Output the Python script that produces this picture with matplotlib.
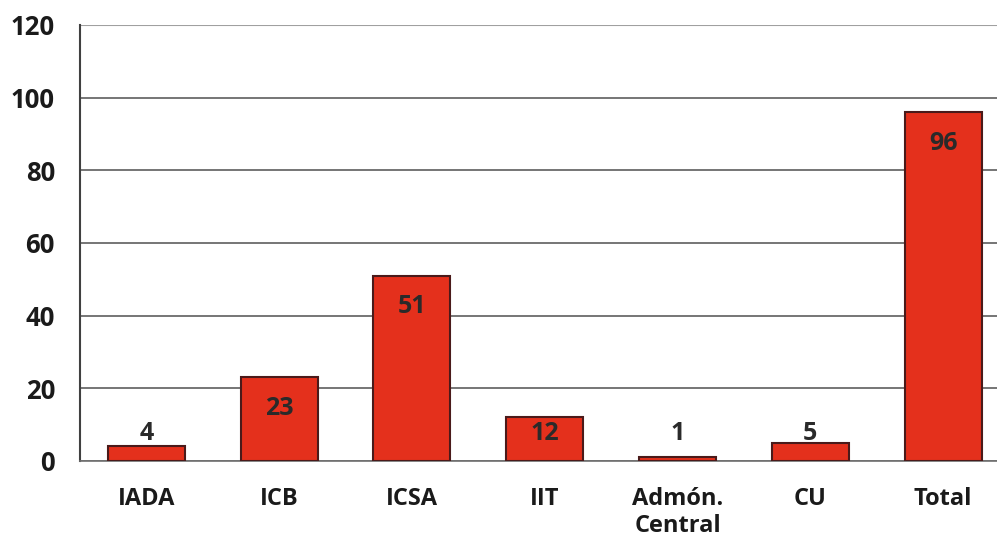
import matplotlib.pyplot as plt
import numpy as np

categories = ["IADA", "ICB", "ICSA", "IIT", "Admón.\nCentral", "CU", "Total"]
values = [4, 23, 51, 12, 1, 5, 96]
yticks = [0, 20, 40, 60, 80, 100, 120]

plt.rcParams['font.family'] = ['Open Sans', 'DejaVu Sans']

fig = plt.figure(figsize=(9.97, 5.44), dpi=100)
ax = fig.add_axes([0.0802, 0.1526, 0.9198, 0.8015])

x = np.arange(len(categories))
ax.bar(x, values, width=0.58, color="#e4301c", edgecolor="#4a1a1a", linewidth=1.5, zorder=3)

# value labels: inside near top, pushed up for short bars
for xi, v in zip(x, values):
    ypos = max(v - 8.5, 7.6)
    ax.text(xi, ypos, str(v), ha="center", va="center", fontsize=18,
            fontweight="bold", color="#2a2a2a", zorder=4)

ax.set_ylim(0, 120)
ax.set_xlim(-0.5, 6.406)
ax.set_yticks(yticks)
ax.set_xticks(x)
ax.set_xticklabels(categories, fontsize=17, fontweight="bold", color="#1a1a1a", linespacing=1.15)
ax.tick_params(axis="y", labelsize=18.5, length=0, pad=18, labelcolor="#1a1a1a")
ax.tick_params(axis="x", length=0, pad=19)
for lbl in ax.get_yticklabels():
    lbl.set_fontweight("bold")

ax.yaxis.grid(True, color="#505050", linewidth=1.1, zorder=0)
ax.set_axisbelow(True)
for s in ["top", "right"]:
    ax.spines[s].set_visible(False)
ax.spines["left"].set_color("#404040")
ax.spines["left"].set_linewidth(1.5)
ax.spines["bottom"].set_color("#707070")
ax.spines["bottom"].set_linewidth(1.2)
ax.axhline(120, color="#a0a0a0", linewidth=1.5, zorder=1)

fig.savefig("out.png", dpi=100, facecolor="white")
